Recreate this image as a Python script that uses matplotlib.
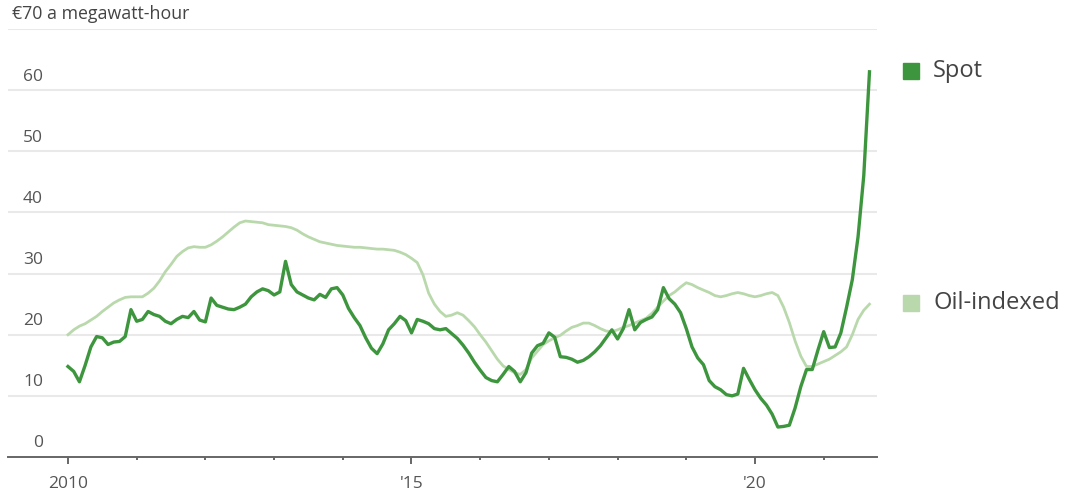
import numpy as np
import matplotlib
matplotlib.use('Agg')
import matplotlib.pyplot as plt

plt.rcParams['font.family'] = ['Open Sans', 'DejaVu Sans']

# monthly values, Jan 2010 - Sep 2021 (euros per megawatt-hour)
spot = [
    14.8, 14.0, 12.3, 15.0, 18.0, 19.7, 19.5, 18.4, 18.8, 18.9, 19.7, 24.1,   # 2010
    22.2, 22.5, 23.8, 23.3, 23.0, 22.2, 21.8, 22.5, 23.0, 22.8, 23.8, 22.4,   # 2011
    22.1, 26.0, 24.8, 24.5, 24.2, 24.1, 24.5, 25.0, 26.2, 27.0, 27.5, 27.2,   # 2012
    26.5, 27.0, 32.0, 28.2, 27.0, 26.5, 26.0, 25.7, 26.6, 26.1, 27.5, 27.7,   # 2013
    26.5, 24.3, 22.8, 21.5, 19.5, 17.8, 16.9, 18.5, 20.8, 21.8, 23.0, 22.3,   # 2014
    20.3, 22.5, 22.2, 21.8, 21.0, 20.8, 21.0, 20.2, 19.4, 18.3, 17.0, 15.5,   # 2015
    14.2, 13.0, 12.5, 12.3, 13.5, 14.8, 14.0, 12.3, 13.8, 17.0, 18.2, 18.6,   # 2016
    20.3, 19.6, 16.4, 16.3, 16.0, 15.5, 15.8, 16.4, 17.2, 18.2, 19.5, 20.8,   # 2017
    19.3, 21.0, 24.1, 20.8, 22.0, 22.5, 22.9, 24.1, 27.7, 25.9, 25.0, 23.6,   # 2018
    21.0, 18.0, 16.2, 15.1, 12.5, 11.5, 11.0, 10.2, 10.0, 10.3, 14.5, 12.7,   # 2019
    11.0, 9.6, 8.5, 7.0, 4.9, 5.0, 5.2, 8.0, 11.5, 14.3, 14.3, 17.5,          # 2020
    20.5, 17.9, 18.0, 20.3, 24.5, 29.0, 36.0, 46.0, 63.0,                      # 2021
]
oil_indexed = [
    20.0, 20.8, 21.4, 21.8, 22.4, 23.0, 23.8, 24.5, 25.2, 25.7, 26.1, 26.2,   # 2010
    26.2, 26.2, 26.8, 27.6, 28.8, 30.3, 31.5, 32.8, 33.6, 34.2, 34.4, 34.3,   # 2011
    34.3, 34.7, 35.3, 36.0, 36.8, 37.6, 38.3, 38.6, 38.5, 38.4, 38.3, 38.0,   # 2012
    37.9, 37.8, 37.7, 37.5, 37.1, 36.5, 36.0, 35.6, 35.2, 35.0, 34.8, 34.6,   # 2013
    34.5, 34.4, 34.3, 34.3, 34.2, 34.1, 34.0, 34.0, 33.9, 33.8, 33.5, 33.1,   # 2014
    32.5, 31.8, 29.8, 26.8, 25.0, 23.8, 23.0, 23.2, 23.6, 23.2, 22.3, 21.3,   # 2015
    20.0, 18.8, 17.4, 16.0, 14.9, 14.3, 13.8, 13.5, 14.3, 16.2, 17.3, 18.4,   # 2016
    19.0, 19.5, 19.9, 20.6, 21.2, 21.5, 21.9, 21.9, 21.5, 21.0, 20.6, 20.5,   # 2017
    20.8, 21.2, 21.5, 21.9, 22.3, 22.7, 23.5, 24.5, 25.5, 26.4, 27.0, 27.8,   # 2018
    28.5, 28.2, 27.7, 27.3, 26.9, 26.4, 26.2, 26.4, 26.7, 26.9, 26.7, 26.4,   # 2019
    26.2, 26.4, 26.7, 26.9, 26.4, 24.5, 22.0, 19.0, 16.5, 14.8, 14.8, 15.2,   # 2020
    15.6, 16.0, 16.6, 17.2, 18.0, 20.0, 22.5, 24.0, 25.0,                      # 2021
]
dates = 2010 + np.arange(len(spot)) / 12.0

y_ticks = [0, 10, 20, 30, 40, 50, 60]
year_ticks = list(range(2010, 2022))
year_labels = {2010: '2010', 2015: "'15", 2020: "'20"}

SPOT_C = '#3d963d'
OIL_C = '#b9d9ac'
TEXT_C = '#555555'

fig = plt.figure(figsize=(10.66, 5.0), dpi=100)
ax = fig.add_axes([8 / 1066, 43 / 500, 869 / 1066, 428 / 500])

ax.set_xlim(2009.127, 2021.776)
ax.set_ylim(0, 70)

for v in y_ticks[1:] + [70]:
    ax.axhline(v, color='#e9e9e9', lw=1.5, zorder=0)

ax.plot(dates, oil_indexed, color=OIL_C, lw=2.0, zorder=2)
ax.plot(dates, spot, color=SPOT_C, lw=2.4, zorder=3)

for s in ['top', 'right', 'left']:
    ax.spines[s].set_visible(False)
ax.spines['bottom'].set_color('#666666')
ax.spines['bottom'].set_linewidth(1.4)

ax.set_yticks([])
ax.set_xticks([y for y in year_ticks if y in year_labels])
ax.set_xticklabels([year_labels[y] for y in year_ticks if y in year_labels])
ax.set_xticks([y for y in year_ticks if y not in year_labels], minor=True)
ax.tick_params(axis='x', which='major', length=5, width=1.4, color='#666666',
               pad=9, labelsize=12.5, labelcolor=TEXT_C)
ax.tick_params(axis='x', which='minor', length=2.5, width=1.4, color='#666666')

ytr = ax.get_yaxis_transform()
for v in y_ticks:
    ax.text(0.0403, v + 0.9, str(v), transform=ytr, ha='right', va='bottom',
            fontsize=12.5, color=TEXT_C)
ax.text(0.005, 70 + 0.9, '€70 a megawatt-hour', transform=ytr, ha='left',
        va='bottom', fontsize=12.8, color='#444444',
        bbox=dict(facecolor='white', edgecolor='none', pad=1))

# labels at line ends
for name, series, col in [('Spot', spot, SPOT_C), ('Oil-indexed', oil_indexed, OIL_C)]:
    ax.plot([1.039], [series[-1] + 0.2], marker='s', ms=11.5, color=col,
            transform=ytr, clip_on=False)
    ax.text(1.0645, series[-1] + 0.2, name, transform=ytr, ha='left',
            va='center', fontsize=17, color='#444444')

fig.savefig('out.png', dpi=100)
